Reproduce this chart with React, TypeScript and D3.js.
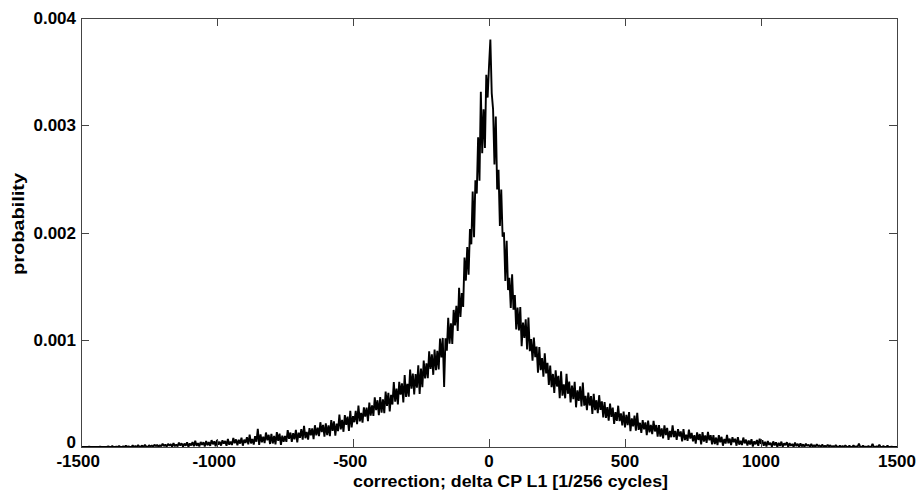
import React from 'react';
import * as d3 from 'd3';

// Histogram of correction values, sampled every 5 units from -1500 to 1500.
// Values are probabilities in units of 1e-6.
const X_START = -1500;
const X_STEP = 5;

const probNeg1500 = [0,0,0,0,0,0,3,0,0,0, 0,0,0,0,4,0,0,0,0,0, 5,0,0,8,0,0,3,0,10,0, 0,7,0,12,0,5,0,0,15,0, 8,0,18,0,6,12,0,20,4,0];
const probNeg1250 = [16,3,15,1,22,7,20,1,17,6, 31,8,22,3,30,13,26,3,36,7, 23,6,41,14,35,4,32,12,43,1, 33,15,45,7,58,12,35,6,47,20, 44,4,56,16,45,11,64,25,53,7];
const probNeg1000 = [65,22,49,13,62,32,57,12,74,21, 51,19,84,36,71,17,68,32,87,12, 69,38,92,25,115,34,75,22,100,49, 170,19,117,44,97,36,135,62,114,28, 122,33,103,24,139,57,125,19,105,48];
const probNeg750 = [102,48,157,77,135,49,128,72,159,43, 134,86,166,68,198,82,141,68,175,108, 173,73,203,108,180,101,231,138,206,97, 221,110,201,101,251,150,239,106,218,148, 303,164,253,142,297,206,284,149,337,182];
const probNeg500 = [288,231,336,213,386,238,318,227,369,283, 367,240,414,292,389,289,463,344,436,296, 466,321,445,315,516,383,506,332,487,396, 606,422,545,397,607,488,594,416,670,466, 588,470,723,544,685,489,680,554,762,494];
const probNeg250 = [731,557,805,639,779,642,892,729,864,673, 908,716,896,723,1011,835,1017,560,1013,898, 1205,963,1154,960,1278,1133,1316,1081,1484,1212, 1435,1306,1767,1551,1864,1606,2032,1890,2383,1956, 2486,2363,2888,2482,3313,2739,3148,2789,3470,3258];
const probPos0 = [3550,3800,3300,3148,2635,3081,2401,2586,2061,2401, 1960,2001,1549,1923,1463,1578,1297,1611,1281,1417, 1097,1300,1086,1304,939,1160,1016,1191,910,1207, 893,1006,805,1021,838,936,693,933,717,830, 656,874,686,784,578,760,557,681,503,715];
const probPos250 = [564,663,455,705,479,585,454,682,496,609, 416,572,445,607,370,529,429,565,378,600, 386,477,344,508,387,474,309,495,344,436, 315,483,346,426,276,419,271,372,245,405, 281,368,216,325,244,385,242,314,201,331];
const probPos500 = [182,300,204,326,147,266,192,293,153,318, 160,226,131,251,165,229,110,246,137,206, 119,243,145,205,96,205,97,173,81,202, 111,178,67,150,91,201,92,150,66,167, 99,145,53,167,65,115,58,161,79,131];
const probPos750 = [52,111,32,137,66,121,25,139,50,108, 38,140,62,110,25,111,28,88,17,111, 43,95,12,75,32,113,35,78,18,91, 44,77,12,92,22,57,18,88,34,69, 13,60,24,73,5,53,25,65,12,77];
const probPos1000 = [30,62,12,48,5,55,20,40,2,52, 15,44,0,38,10,50,3,33,18,45, 0,36,12,28,0,42,8,30,0,34, 6,25,0,31,10,22,0,28,4,18, 0,26,7,15,0,22,3,12,0,20];
const probPos1250 = [5,16,0,10,0,18,4,0,12,0, 8,0,15,3,0,11,0,0,14,0, 6,0,32,0,0,12,0,4,0,9, 0,0,28,0,0,5,0,20,0,0, 8,0,0,12,0,0,4,0,0,0, 0];

const xTicks = [-1500, -1000, -500, 0, 500, 1000, 1500];
const yTicks = [0, 0.001, 0.002, 0.003, 0.004];
const yTickLabels = ['0', '0.001', '0.002', '0.003', '0.004'];
const xAxisLabel = 'correction; delta CP L1 [1/256 cycles]';
const yAxisLabel = 'probability';

export default function App() {
  const W = 917, H = 495;
  const left = 81, right = 897, top = 18, bottom = 447;
  const x = d3.scaleLinear().domain([-1500, 1500]).range([left, right]);
  const y = d3.scaleLinear().domain([0, 0.004]).range([bottom, top]);

  const values = [
    ...probNeg1500, ...probNeg1250, ...probNeg1000, ...probNeg750, ...probNeg500, ...probNeg250,
    ...probPos0, ...probPos250, ...probPos500, ...probPos750, ...probPos1000, ...probPos1250,
  ];
  const data = values.map((v, i) => ({ cx: X_START + i * X_STEP, p: v * 1e-6 }));
  const line = d3.line<{ cx: number; p: number }>().x(d => x(d.cx)).y(d => y(d.p));

  const font = "'Liberation Sans', Arial, Helvetica, sans-serif";
  const fs = 17;
  const axisColor = '#444';
  const tickLen = 8;

  return (
    <svg width={W} height={H} style={{ position: 'absolute', left: 0, top: 0, background: '#fff' }}>
      <rect x={0} y={0} width={W} height={H} fill="#fff" />
      <clipPath id="plotClip">
        <rect x={left} y={0} width={right - left} height={bottom + 0.5} />
      </clipPath>
      <path d={line(data) || ''} fill="none" stroke="#000" strokeWidth={1.9} strokeLinejoin="bevel" clipPath="url(#plotClip)" />
      {/* box */}
      <rect x={left + 0.5} y={top + 0.5} width={right - left} height={bottom - top} fill="none" stroke={axisColor} strokeWidth={1} />
      {/* x ticks */}
      {xTicks.map(t => {
        const px = Math.round(x(t)) + 0.5;
        return (
          <g key={'xt' + t}>
            <line x1={px} x2={px} y1={bottom} y2={bottom - tickLen} stroke={axisColor} />
            <line x1={px} x2={px} y1={top} y2={top + tickLen} stroke={axisColor} />
          </g>
        );
      })}
      {/* y ticks */}
      {yTicks.map(t => {
        const py = Math.round(y(t)) + 0.5;
        return (
          <g key={'yt' + t}>
            <line x1={left} x2={left + tickLen} y1={py} y2={py} stroke={axisColor} />
            <line x1={right} x2={right - tickLen} y1={py} y2={py} stroke={axisColor} />
          </g>
        );
      })}
      {/* x tick labels: digits centred on tick, minus hanging left */}
      {xTicks.map(t => {
        const px = x(t);
        const digits = String(Math.abs(t));
        const dw = digits.length * 0.556 * fs;
        return (
          <g key={'xl' + t} fontFamily={font} fontSize={fs} fontWeight="bold" fill="#000">
            <text x={px} y={467} textAnchor="middle">{digits}</text>
            {t < 0 && <text x={px - dw / 2} y={467} textAnchor="end">-</text>}
          </g>
        );
      })}
      {/* y tick labels */}
      {yTicks.map((t, i) => (
        <text key={'yl' + t} x={76} y={y(t) - (t === 0 ? 5 : 0)} dy="0.36em" textAnchor="end" fontFamily={font} fontSize={fs} fontWeight="bold" fill="#000">
          {yTickLabels[i]}
        </text>
      ))}
      {/* axis labels */}
      <text x={510.5} y={487} textAnchor="middle" fontFamily={font} fontSize={16} fontWeight="bold" fill="#000"
        textLength={315} lengthAdjust="spacingAndGlyphs">{xAxisLabel}</text>
      <text transform="translate(24,224) rotate(-90)" textAnchor="middle" fontFamily={font} fontSize={16} fontWeight="bold" fill="#000"
        textLength={102} lengthAdjust="spacingAndGlyphs">{yAxisLabel}</text>
    </svg>
  );
}
